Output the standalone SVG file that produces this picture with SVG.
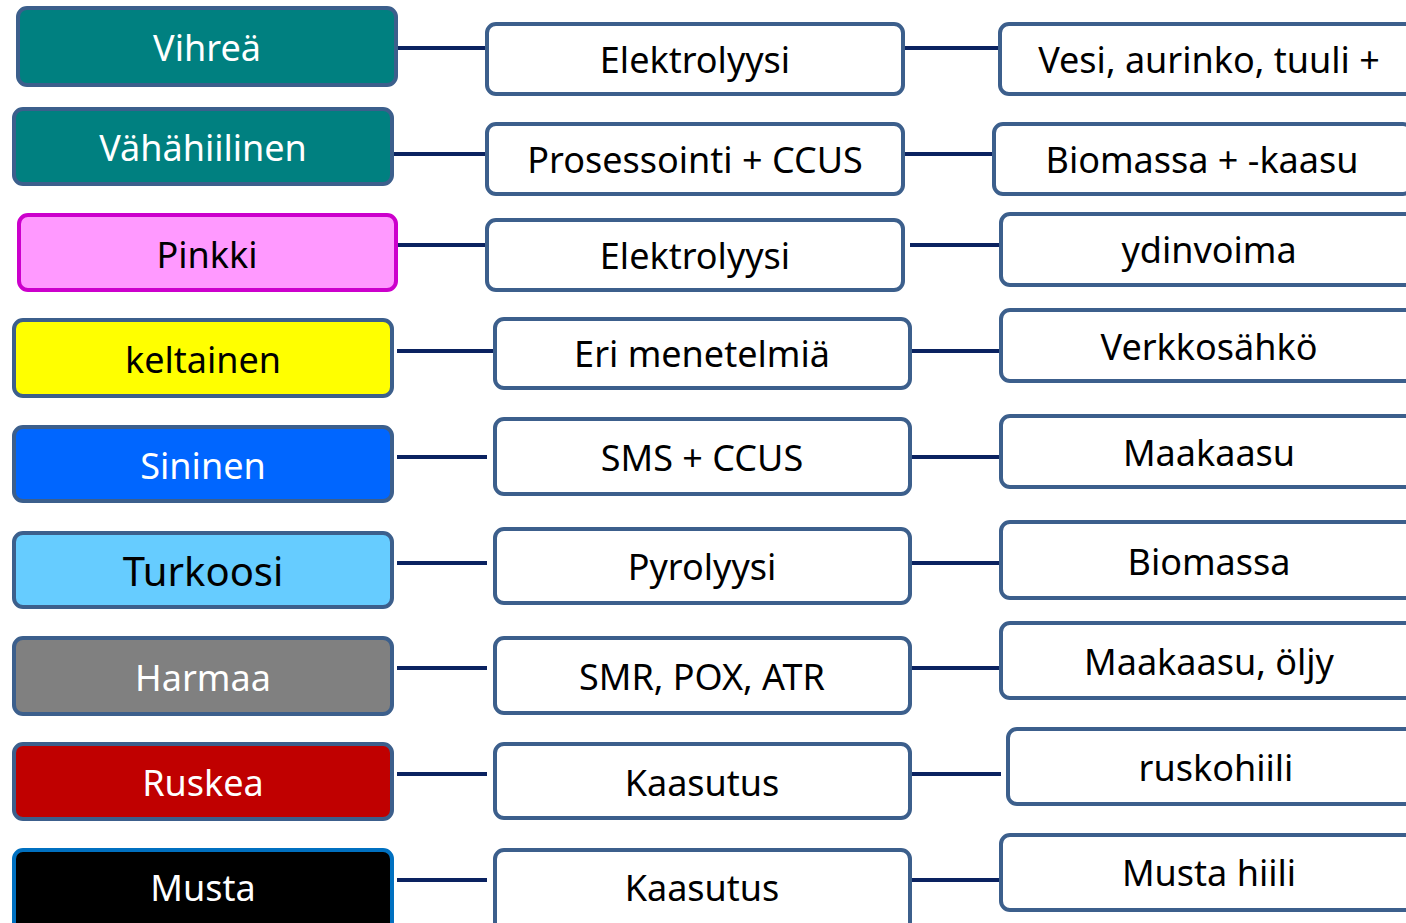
<svg xmlns="http://www.w3.org/2000/svg" width="1406" height="923" viewBox="0 0 1406 923">
<style>
.box{stroke:#3C5F8C;stroke-width:4}
.w{fill:#FFFFFF}
.t{font-family:"Noto Sans","Open Sans","Liberation Sans",sans-serif;font-size:36px;text-anchor:middle;fill:#000000}
.tw{fill:#FFFFFF}
.conn line{stroke:#0A2260;stroke-width:4}
</style>
<rect width="1406" height="923" fill="#FFFFFF"/>
<g class="conn" id="connectors">
<line x1="397" y1="48" x2="487" y2="48"/><line x1="903" y1="48" x2="1000" y2="48"/>
<line x1="392" y1="154" x2="487" y2="154"/><line x1="903" y1="154" x2="994" y2="154"/>
<line x1="397" y1="245" x2="487" y2="245"/><line x1="910" y1="245" x2="1001" y2="245"/>
<line x1="397" y1="351" x2="495" y2="351"/><line x1="910" y1="351" x2="1001" y2="351"/>
<line x1="397" y1="457" x2="487" y2="457"/><line x1="910" y1="457" x2="1001" y2="457"/>
<line x1="397" y1="563" x2="487" y2="563"/><line x1="910" y1="563" x2="1001" y2="563"/>
<line x1="397" y1="668" x2="487" y2="668"/><line x1="910" y1="668" x2="1001" y2="668"/>
<line x1="397" y1="774" x2="487" y2="774"/><line x1="910" y1="774" x2="1001" y2="774"/>
<line x1="397" y1="880" x2="487" y2="880"/><line x1="910" y1="880" x2="1001" y2="880"/>
</g>
<g id="left-vihrea"><rect class="box" x="18" y="8" width="378" height="77" rx="9" fill="#008080"/><text class="t tw" x="207" y="61">Vihreä</text></g>
<g id="left-vahahiilinen"><rect class="box" x="14" y="109" width="378" height="75" rx="9" fill="#008080"/><text class="t tw" x="203" y="161">Vähähiilinen</text></g>
<g id="left-pinkki"><rect x="19" y="215" width="377" height="75" rx="9" fill="#FF99FF" stroke="#CC00CC" stroke-width="4"/><text class="t" x="207" y="268">Pinkki</text></g>
<g id="left-keltainen"><rect class="box" x="14" y="320" width="378" height="76" rx="9" fill="#FFFF00"/><text class="t" x="203" y="373">keltainen</text></g>
<g id="left-sininen"><rect class="box" x="14" y="427" width="378" height="74" rx="9" fill="#0066FF"/><text class="t tw" x="203" y="479">Sininen</text></g>
<g id="left-turkoosi"><rect class="box" x="14" y="533" width="378" height="74" rx="9" fill="#66CCFF"/><text class="t" x="203" y="586" style="font-size:40px">Turkoosi</text></g>
<g id="left-harmaa"><rect class="box" x="14" y="638" width="378" height="76" rx="9" fill="#808080"/><text class="t tw" x="203" y="691">Harmaa</text></g>
<g id="left-ruskea"><rect class="box" x="14" y="744" width="378" height="75" rx="9" fill="#C00000"/><text class="t tw" x="203" y="796">Ruskea</text></g>
<g id="left-musta"><rect x="14" y="850" width="378" height="85" rx="9" fill="#000000" stroke="#0070C0" stroke-width="4"/><text class="t tw" x="203" y="901">Musta</text></g>

<g id="mid-1"><rect class="box w" x="487" y="24" width="416" height="70" rx="9"/><text class="t" x="695" y="73">Elektrolyysi</text></g>
<g id="mid-2"><rect class="box w" x="487" y="124" width="416" height="70" rx="9"/><text class="t" x="695" y="173">Prosessointi + CCUS</text></g>
<g id="mid-3"><rect class="box w" x="487" y="220" width="416" height="70" rx="9"/><text class="t" x="695" y="269">Elektrolyysi</text></g>
<g id="mid-4"><rect class="box w" x="495" y="319" width="415" height="69" rx="9"/><text class="t" x="702" y="367">Eri menetelmiä</text></g>
<g id="mid-5"><rect class="box w" x="495" y="419" width="415" height="75" rx="9"/><text class="t" x="702" y="471">SMS + CCUS</text></g>
<g id="mid-6"><rect class="box w" x="495" y="529" width="415" height="74" rx="9"/><text class="t" x="702" y="580">Pyrolyysi</text></g>
<g id="mid-7"><rect class="box w" x="495" y="638" width="415" height="75" rx="9"/><text class="t" x="702" y="690">SMR, POX, ATR</text></g>
<g id="mid-8"><rect class="box w" x="495" y="744" width="415" height="74" rx="9"/><text class="t" x="702" y="796">Kaasutus</text></g>
<g id="mid-9"><rect class="box w" x="495" y="850" width="415" height="85" rx="9"/><text class="t" x="702" y="901">Kaasutus</text></g>

<g id="right-1"><rect class="box w" x="1000" y="24" width="418" height="70" rx="9"/><text class="t" x="1209" y="73">Vesi, aurinko, tuuli +</text></g>
<g id="right-2"><rect class="box w" x="994" y="124" width="418" height="70" rx="9"/><text class="t" x="1202" y="173">Biomassa + -kaasu</text></g>
<g id="right-3"><rect class="box w" x="1001" y="214" width="418" height="71" rx="9"/><text class="t" x="1209" y="263">ydinvoima</text></g>
<g id="right-4"><rect class="box w" x="1001" y="310" width="418" height="71" rx="9"/><text class="t" x="1209" y="360">Verkkosähkö</text></g>
<g id="right-5"><rect class="box w" x="1001" y="416" width="418" height="71" rx="9"/><text class="t" x="1209" y="466">Maakaasu</text></g>
<g id="right-6"><rect class="box w" x="1001" y="522" width="418" height="76" rx="9"/><text class="t" x="1209" y="575">Biomassa</text></g>
<g id="right-7"><rect class="box w" x="1001" y="623" width="418" height="75" rx="9"/><text class="t" x="1209" y="675">Maakaasu, öljy</text></g>
<g id="right-8"><rect class="box w" x="1008" y="729" width="418" height="75" rx="9"/><text class="t" x="1216" y="781">ruskohiili</text></g>
<g id="right-9"><rect class="box w" x="1001" y="835" width="418" height="75" rx="9"/><text class="t" x="1209" y="886">Musta hiili</text></g>
</svg>
